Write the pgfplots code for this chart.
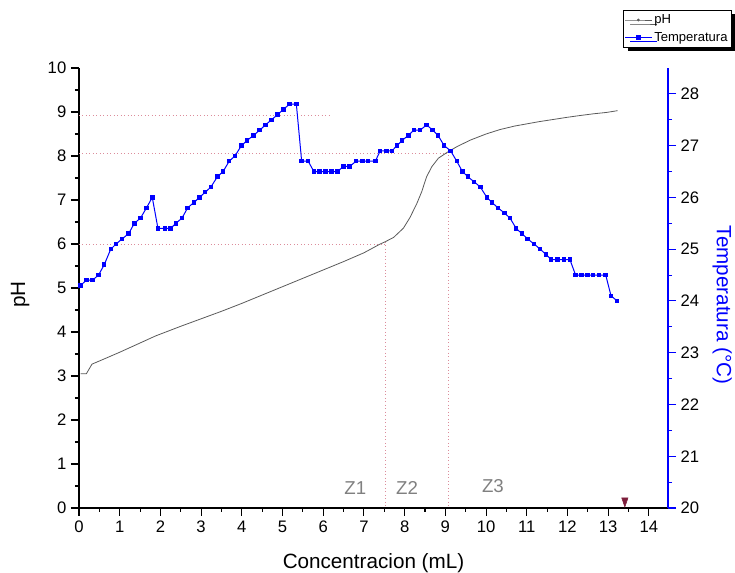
\documentclass[border=0pt]{standalone}
\usepackage{pgfplots}
\pgfplotsset{compat=1.18}
\usepackage{fontspec}
\setmainfont{Liberation Sans}
\usetikzlibrary{shadows}
\definecolor{refl}{RGB}{220,140,155}
\definecolor{phc}{RGB}{90,90,90}
\definecolor{zgray}{RGB}{128,128,128}
\definecolor{tri}{RGB}{125,30,60}
\begin{document}
\begin{tikzpicture}
\begin{axis}[
  scale only axis, width=441.75pt, height=330pt,
  xmin=0, xmax=14.47, ymin=0, ymax=10,
  axis x line*=bottom, axis y line*=left,
  axis line style={-, line width=0.8pt},
  xtick={0,...,14}, ytick={0,...,10},
  minor x tick num=1, minor y tick num=1,
  tick align=outside, major tick length=6pt, minor tick length=3pt,
  every tick/.style={black, line width=0.8pt},
  /pgf/number format/assume math mode=true,
  tick label style={font=\fontsize{12.5}{14}\selectfont},
  xlabel={Concentracion (mL)}, ylabel={pH},
  label style={font=\fontsize{15.5}{18}\selectfont},
  xlabel style={at={(axis description cs:0.5,-0.125)}, anchor=center},
  ylabel style={at={(axis description cs:-0.1,0.485)}, anchor=center},
  clip=false,
]
\addplot[refl, dotted, line width=0.6pt] coordinates {(0,8.92) (6.17,8.92)};
\addplot[refl, dotted, line width=0.6pt] coordinates {(0,8.06) (9.07,8.06)};
\addplot[refl, dotted, line width=0.6pt] coordinates {(0,5.98) (7.52,5.98)};
\addplot[refl, dotted, line width=0.6pt] coordinates {(7.52,6.05) (7.52,0)};
\addplot[refl, dotted, line width=0.6pt] coordinates {(9.07,8.1) (9.07,0)};
\addplot[phc, line width=0.6pt] coordinates {
(0.04,3.05) (0.18,3.05) (0.32,3.27) (0.6,3.38) (1.0,3.54) (1.5,3.75) (1.88,3.91)
(2.5,4.13) (3,4.3) (3.5,4.47) (4,4.65) (4.5,4.84) (5,5.03) (5.5,5.22) (6,5.41)
(6.5,5.6) (7,5.8) (7.4,6.0) (7.52,6.05) (7.73,6.15) (7.97,6.36) (8.13,6.6)
(8.3,6.92) (8.42,7.19) (8.54,7.53) (8.67,7.76) (8.83,7.95) (9.04,8.08) (9.28,8.21)
(9.61,8.36) (10.0,8.5) (10.34,8.6) (10.7,8.68) (11.0,8.73) (11.3,8.78) (11.65,8.83)
(12.0,8.88) (12.31,8.92) (12.65,8.96) (12.96,8.99) (13.23,9.03)
};
\addplot[only marks, mark=triangle*, mark size=4.5pt,
  mark options={rotate=180, xscale=0.6, fill=tri, draw=tri}] coordinates {(13.41,0.16)};
\node[zgray, font=\fontsize{14}{16}\selectfont] at (axis cs:6.79,0.45) {Z1};
\node[zgray, font=\fontsize{14}{16}\selectfont] at (axis cs:8.06,0.45) {Z2};
\node[zgray, font=\fontsize{14}{16}\selectfont] at (axis cs:10.17,0.5) {Z3};
\end{axis}
\begin{axis}[
  scale only axis, width=441.75pt, height=330pt,
  xmin=0, xmax=14.47, ymin=20, ymax=28.5,
  axis x line=none, axis y line*=right,
  axis line style={-, blue, line width=0.8pt},
  ytick={20,...,28}, minor y tick num=1,
  tick align=outside, major tick length=6pt, minor tick length=3pt,
  every tick/.style={blue, line width=0.8pt},
  /pgf/number format/assume math mode=true,
  tick label style={font=\fontsize{12.5}{14}\selectfont},
  ylabel={Temperatura (°C)},
  ylabel style={blue, font=\fontsize{15.5}{18}\selectfont, at={(axis description cs:1.092,0.461)}, anchor=center, rotate=180},
  legend style={at={(axis description cs:0.923,1.132)}, anchor=north west,
    font=\fontsize{9.8}{11}\selectfont, draw=black, line width=0.5pt,
    inner sep=1.2pt, row sep=1pt, legend cell align=left,
    nodes={inner xsep=1.5pt},
    drop shadow={shadow xshift=4pt, shadow yshift=-3pt, fill=black, opacity=1}},
  legend image code/.code={\draw[mark repeat=2,mark phase=2] plot coordinates {(0pt,0pt) (10pt,0pt) (20pt,0pt)};},
  clip=false,
]
\addlegendimage{phc, line width=0.5pt, mark=*, mark size=0.8pt}
\addlegendentry{pH}
\addplot[blue, line width=0.75pt, mark=square*, mark size=1.3pt, mark options={fill=blue}] coordinates {
(0.04,24.3) (0.18,24.4) (0.33,24.4) (0.48,24.5) (0.62,24.7) (0.78,25.0) (0.91,25.1)
(1.06,25.2) (1.22,25.3) (1.36,25.5) (1.51,25.6) (1.66,25.8) (1.80,26.0) (1.94,25.4)
(2.11,25.4) (2.25,25.4) (2.38,25.5) (2.53,25.6) (2.67,25.8) (2.82,25.9) (2.96,26.0)
(3.10,26.1) (3.24,26.2) (3.40,26.4) (3.54,26.5) (3.69,26.7) (3.83,26.8) (3.99,27.0)
(4.13,27.1) (4.29,27.2) (4.44,27.3) (4.58,27.4) (4.73,27.5) (4.88,27.6) (5.02,27.7)
(5.17,27.8) (5.34,27.8) (5.47,26.7) (5.63,26.7) (5.77,26.5) (5.91,26.5) (6.06,26.5)
(6.20,26.5) (6.35,26.5) (6.50,26.6) (6.65,26.6) (6.81,26.7) (6.96,26.7) (7.10,26.7)
(7.28,26.7) (7.40,26.9) (7.55,26.9) (7.69,26.9) (7.81,27.0) (7.94,27.1) (8.09,27.2)
(8.23,27.3) (8.38,27.3) (8.54,27.4) (8.69,27.3) (8.82,27.2) (8.97,27.0) (9.13,26.9)
(9.28,26.7) (9.42,26.5) (9.55,26.4) (9.71,26.3) (9.86,26.2) (10.02,26.0) (10.15,25.9)
(10.29,25.8) (10.45,25.7) (10.59,25.6) (10.74,25.4) (10.88,25.3) (11.02,25.2) (11.18,25.1)
(11.33,25.0) (11.47,24.9) (11.60,24.8) (11.76,24.8) (11.91,24.8) (12.06,24.8) (12.20,24.5)
(12.35,24.5) (12.49,24.5) (12.63,24.5) (12.78,24.5) (12.94,24.5) (13.07,24.1) (13.22,24.0)
};
\addlegendentry{Temperatura}
\end{axis}
\pgfresetboundingbox
\path (-59.25pt,-48.75pt) rectangle (492pt,381pt);
\end{tikzpicture}
\end{document}
